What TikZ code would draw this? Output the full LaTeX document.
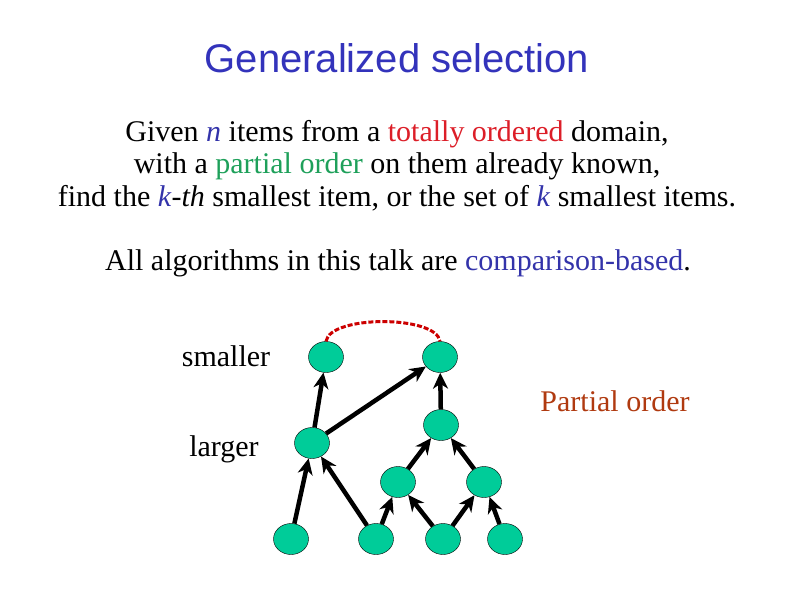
\documentclass[tikz,border=0pt]{standalone}
\usepackage{fontspec}
\setmainfont{Liberation Serif}
\newfontfamily\titlefont{Liberation Sans}
\usepackage{tikz}
\usetikzlibrary{shapes.geometric,arrows.meta}

\definecolor{titleblue}{RGB}{51,51,187}
\definecolor{varblue}{RGB}{51,51,170}
\definecolor{totred}{RGB}{220,30,40}
\definecolor{pogreen}{RGB}{30,160,90}
\definecolor{pobrown}{RGB}{176,58,16}
\definecolor{itemgreen}{RGB}{0,204,153}
\definecolor{arcred}{RGB}{204,0,0}

\begin{document}
\begin{tikzpicture}[x=1pt, y=-1pt,
  item/.style={ellipse, draw=black, thin, fill=itemgreen, minimum width=35pt, minimum height=31pt, inner sep=0pt},
  order/.style={-{Stealth[length=16pt, width=15pt, inset=5pt]}, line width=4.5pt},
  txt/.style={font=\fontsize{30}{33}\selectfont}]

\useasboundingbox (0, 0) rectangle (794, 595);

%% Title and statement

\node at (397, 72) [anchor=base, font=\titlefont\fontsize{40}{42}\selectfont, text=titleblue] (title) {Generalized selection};

\node at (397, 141) [anchor=base, txt] (given)
  {Given \textcolor{varblue}{\emph{n}} items from a \textcolor{totred}{totally ordered} domain,};
\node at (397, 173) [anchor=base, txt] (known)
  {with a \textcolor{pogreen}{partial order} on them already known,};
\node at (397, 206) [anchor=base, txt] (find)
  {find the \textcolor{varblue}{\emph{k}}-\emph{th} smallest item, or the set of \textcolor{varblue}{\emph{k}} smallest items.};

\node at (398, 270) [anchor=base, txt] (note) {All algorithms in this talk are \textcolor{varblue}{comparison-based}.};

%% Side labels

\node at (226, 366) [anchor=base, txt] (smaller) {smaller};
\node at (224, 456) [anchor=base, txt] (larger) {larger};
\node at (615, 411) [anchor=base, txt, text=pobrown] (polabel) {Partial order};

%% The items

% smallest row
\node at (326, 357) [item] (a) {};
\node at (440, 357) [item] (b) {};

% middle rows
\node at (312, 443) [item] (c) {};
\node at (441, 425) [item] (d) {};
\node at (398, 482) [item] (e) {};
\node at (484, 482) [item] (f) {};

% largest row
\node at (291, 539) [item] (g) {};
\node at (376, 539) [item] (h) {};
\node at (443, 539) [item] (i) {};
\node at (505, 539) [item] (j) {};

%% Known comparisons

\draw [order] (g) -- (c);
\draw [order] (h) -- (c);
\draw [order] (h) -- (e);
\draw [order] (i) -- (e);
\draw [order] (i) -- (f);
\draw [order] (j) -- (f);
\draw [order] (e) -- (d);
\draw [order] (f) -- (d);
\draw [order] (d) -- (b);
\draw [order] (c) -- (a);
\draw [order] (c) -- (b);

% the two smallest, not yet compared
\draw [arcred, line width=3pt, dash pattern=on 5pt off 2pt] (a.north) .. controls (330, 315) and (436, 315) .. (b.north);

\end{tikzpicture}
\end{document}
